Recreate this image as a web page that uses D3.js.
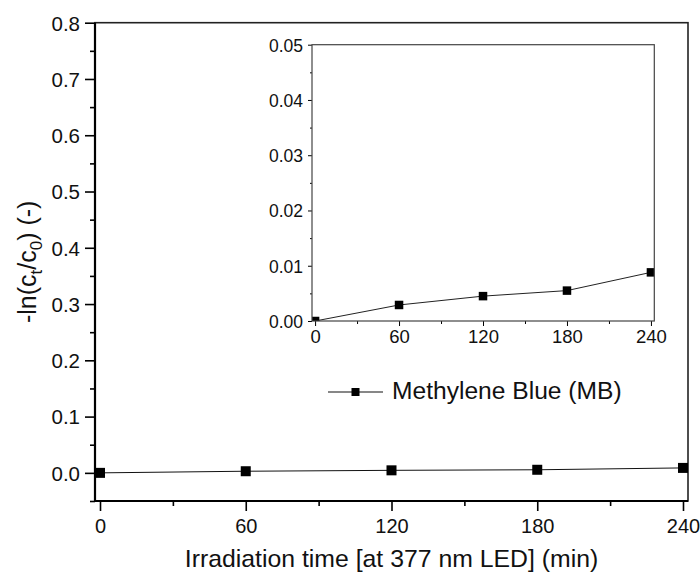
<!DOCTYPE html>
<html>
<head>
<meta charset="utf-8">
<script src="https://cdn.jsdelivr.net/npm/d3@7"></script>
<style>
  body { margin: 0; background: #fff; }
  svg { display: block; font-family: Arial, "Liberation Sans", sans-serif; }
  .axis path { display: none; }
  .axis line { stroke: #000; }
</style>
</head>
<body>
<div class="canvas"></div>
<script>
// data
const times = [0, 60, 120, 180, 240];
const mbValues = [0, 0.0029, 0.0045, 0.0055, 0.0088];
const seriesName = 'Methylene Blue (MB)';

const xTicks = [0, 60, 120, 180, 240];
const xMinor = [30, 90, 150, 210];
const yTicks = [0, 0.1, 0.2, 0.3, 0.4, 0.5, 0.6, 0.7, 0.8];
const yMinor = [-0.05, 0.05, 0.15, 0.25, 0.35, 0.45, 0.55, 0.65, 0.75];
const insetYTicks = [0, 0.01, 0.02, 0.03, 0.04, 0.05];
const insetYMinor = [0.005, 0.015, 0.025, 0.035, 0.045];

const data = times.map((t, i) => ({ t: t, v: mbValues[i] }));

const svg = d3.select('.canvas')
    .append('svg')
    .attr('width', 700)
    .attr('height', 576);

// main plot area
const plot = { left: 95, right: 688, top: 22.7, bottom: 501 };

const x = d3.scaleLinear()
    .domain([-2.06, 242.06])
    .range([plot.left, plot.right]);

const y = d3.scaleLinear()
    .domain([-0.05, 0.8])
    .range([plot.bottom, plot.top]);

// frame top / right
svg.append('rect')
    .attr('x', plot.left)
    .attr('y', plot.top)
    .attr('width', plot.right - plot.left)
    .attr('height', plot.bottom - plot.top)
    .attr('fill', 'none')
    .attr('stroke', '#222')
    .attr('stroke-width', 1.6);

// x axis
const xAxisG = svg.append('g')
    .attr('class', 'axis')
    .attr('transform', `translate(0, ${plot.bottom})`)
    .call(d3.axisBottom(x).tickValues(xTicks).tickSize(10).tickFormat(d3.format('d')));
xAxisG.selectAll('line').attr('stroke-width', 1.6);
xAxisG.selectAll('text')
    .attr('y', 32).attr('dy', null)
    .attr('font-size', 20).attr('fill', '#111');

svg.append('g')
    .attr('class', 'axis')
    .attr('transform', `translate(0, ${plot.bottom})`)
    .call(d3.axisBottom(x).tickValues(xMinor).tickSize(5).tickFormat(''))
    .selectAll('line').attr('stroke-width', 1.6);

// y axis
const yAxisG = svg.append('g')
    .attr('class', 'axis')
    .attr('transform', `translate(${plot.left}, 0)`)
    .call(d3.axisLeft(y).tickValues(yTicks).tickSize(10).tickFormat(d3.format('.1f')));
yAxisG.selectAll('line').attr('stroke-width', 1.6);
yAxisG.selectAll('text')
    .attr('x', -15).attr('dy', '0.36em')
    .attr('font-size', 20.5).attr('fill', '#111');

svg.append('g')
    .attr('class', 'axis')
    .attr('transform', `translate(${plot.left}, 0)`)
    .call(d3.axisLeft(y).tickValues(yMinor).tickSize(5).tickFormat(''))
    .selectAll('line').attr('stroke-width', 1.6);

// thick left / bottom axis lines
svg.append('line')
    .attr('x1', plot.left).attr('x2', plot.left)
    .attr('y1', plot.top).attr('y2', plot.bottom + 1)
    .attr('stroke', '#000').attr('stroke-width', 2.2);
svg.append('line')
    .attr('x1', plot.left - 1).attr('x2', plot.right)
    .attr('y1', plot.bottom).attr('y2', plot.bottom)
    .attr('stroke', '#000').attr('stroke-width', 2.2);

// main series
const line = d3.line().x(d => x(d.t)).y(d => y(d.v));
svg.append('path')
    .datum(data)
    .attr('d', line)
    .attr('fill', 'none')
    .attr('stroke', '#111')
    .attr('stroke-width', 1);

const mSize = 10;
svg.selectAll('.mark')
    .data(data)
    .enter()
    .append('rect')
    .attr('class', 'mark')
    .attr('x', d => x(d.t) - mSize / 2)
    .attr('y', d => y(d.v) - mSize / 2)
    .attr('width', mSize)
    .attr('height', mSize)
    .attr('fill', '#000');

// axis titles
svg.append('text')
    .attr('x', (plot.left + plot.right) / 2)
    .attr('y', 567)
    .attr('text-anchor', 'middle')
    .attr('font-size', 24.8)
    .attr('fill', '#111')
    .text('Irradiation time [at 377 nm LED] (min)');

const yTitle = svg.append('text')
    .attr('transform', `translate(36, ${(plot.top + plot.bottom) / 2}) rotate(-90)`)
    .attr('text-anchor', 'middle')
    .attr('font-size', 25)
    .attr('fill', '#111');
yTitle.append('tspan').text('-ln(c');
yTitle.append('tspan').attr('font-size', 17).attr('dy', 6).text('t');
yTitle.append('tspan').attr('dy', -6).text('/c');
yTitle.append('tspan').attr('font-size', 17).attr('dy', 6).text('0');
yTitle.append('tspan').attr('dy', -6).text(') (-)');

// inset
const inset = { left: 312, right: 654.3, top: 44.7, bottom: 321 };

const xi = d3.scaleLinear()
    .domain([-2.2, 242.4])
    .range([inset.left, inset.right]);

const yi = d3.scaleLinear()
    .domain([0, 0.05])
    .range([inset.bottom, inset.top]);

svg.append('clipPath')
    .attr('id', 'insetClip')
    .append('rect')
    .attr('x', inset.left)
    .attr('y', inset.top)
    .attr('width', inset.right - inset.left)
    .attr('height', inset.bottom - inset.top);

const ixAxis = svg.append('g')
    .attr('class', 'axis')
    .attr('transform', `translate(0, ${inset.bottom})`)
    .call(d3.axisBottom(xi).tickValues(xTicks).tickSize(5).tickFormat(d3.format('d')));
ixAxis.selectAll('line').attr('stroke', '#333');
ixAxis.selectAll('text')
    .attr('y', 22).attr('dy', null)
    .attr('font-size', 18.5).attr('fill', '#111');

svg.append('g')
    .attr('class', 'axis')
    .attr('transform', `translate(0, ${inset.bottom})`)
    .call(d3.axisBottom(xi).tickValues(xMinor).tickSize(3).tickFormat(''))
    .selectAll('line').attr('stroke', '#333');

const iyAxis = svg.append('g')
    .attr('class', 'axis')
    .attr('transform', `translate(${inset.left}, 0)`)
    .call(d3.axisLeft(yi).tickValues(insetYTicks).tickSize(4).tickFormat(d3.format('.2f')));
iyAxis.selectAll('line').attr('stroke', '#333');
iyAxis.selectAll('text')
    .attr('x', -9).attr('dy', '0.36em')
    .attr('font-size', 17.5).attr('fill', '#111');

svg.append('g')
    .attr('class', 'axis')
    .attr('transform', `translate(${inset.left}, 0)`)
    .call(d3.axisLeft(yi).tickValues(insetYMinor).tickSize(2).tickFormat(''))
    .selectAll('line').attr('stroke', '#333');

const insetBody = svg.append('g').attr('clip-path', 'url(#insetClip)');

const lineI = d3.line().x(d => xi(d.t)).y(d => yi(d.v));
insetBody.append('path')
    .datum(data)
    .attr('d', lineI)
    .attr('fill', 'none')
    .attr('stroke', '#222')
    .attr('stroke-width', 1);

const iSize = 8.5;
insetBody.selectAll('.imark')
    .data(data)
    .enter()
    .append('rect')
    .attr('class', 'imark')
    .attr('x', d => xi(d.t) - iSize / 2)
    .attr('y', d => yi(d.v) - iSize / 2)
    .attr('width', iSize)
    .attr('height', iSize)
    .attr('fill', '#000');

svg.append('rect')
    .attr('x', inset.left)
    .attr('y', inset.top)
    .attr('width', inset.right - inset.left)
    .attr('height', inset.bottom - inset.top)
    .attr('fill', 'none')
    .attr('stroke', '#444')
    .attr('stroke-width', 1.2);

// legend
const legend = svg.append('g').attr('transform', 'translate(328, 392)');
legend.append('line')
    .attr('x1', 0).attr('x2', 55)
    .attr('y1', 0).attr('y2', 0)
    .attr('stroke', '#111').attr('stroke-width', 1.2);
legend.append('rect')
    .attr('x', 27.5 - 4).attr('y', -4)
    .attr('width', 8).attr('height', 8)
    .attr('fill', '#000');
legend.append('text')
    .attr('x', 64)
    .attr('y', 7)
    .attr('font-size', 24.6)
    .attr('fill', '#111')
    .text(seriesName);
</script>
</body>
</html>
